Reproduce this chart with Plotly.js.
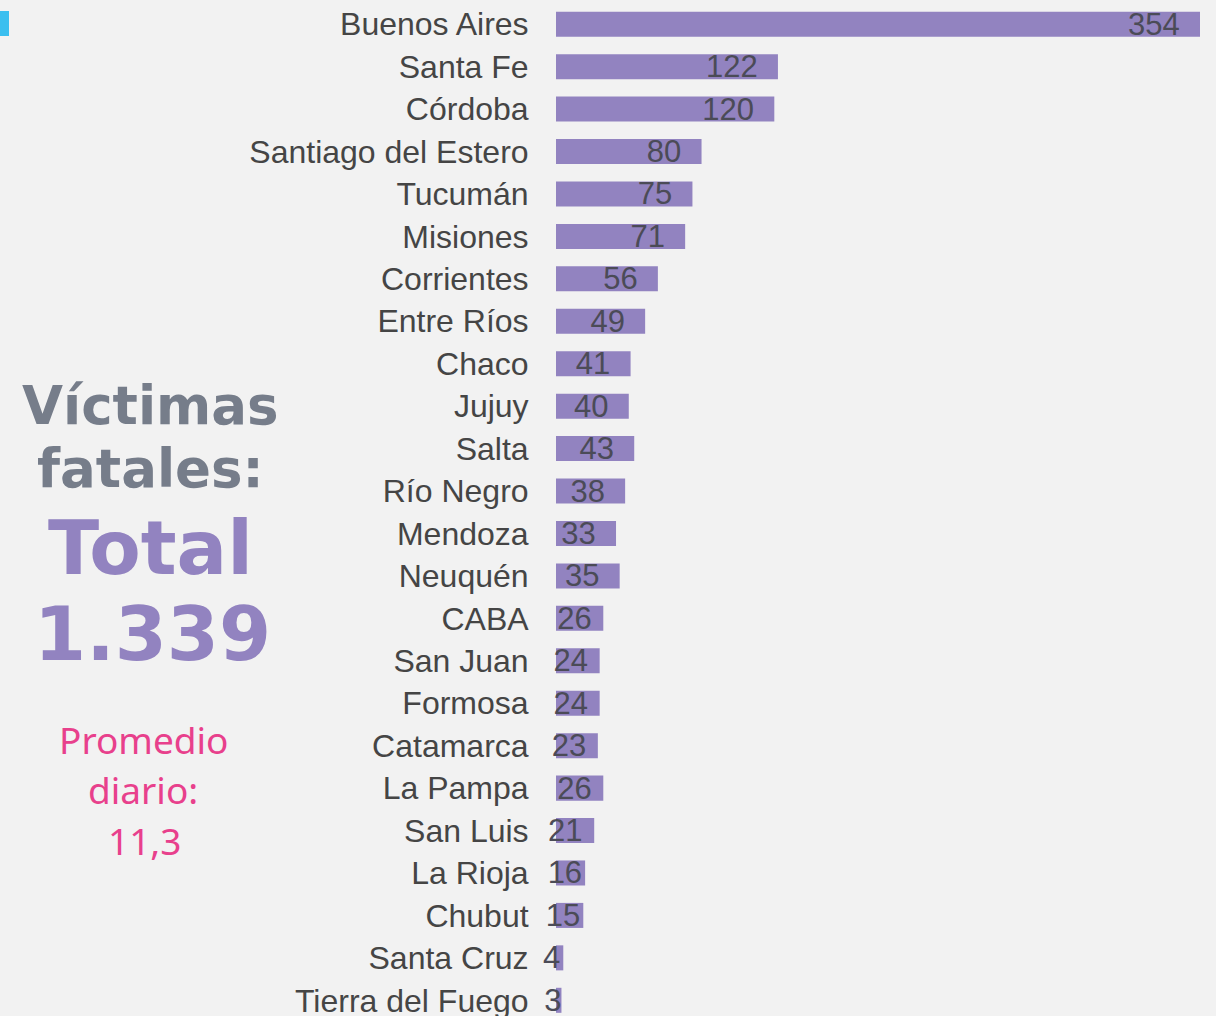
<!DOCTYPE html>
<html>
<head>
<meta charset="utf-8">
<script src="https://cdn.plot.ly/plotly-3.0.1.min.js"></script>
<style>
  html, body { margin: 0; padding: 0; background: #f2f2f2; }
  #grafico { width: 1216px; height: 1016px; }
</style>
</head>
<body>
<div id="grafico"></div>
<script>
let provincias = ['Buenos Aires', 'Santa Fe', 'Córdoba', 'Santiago del Estero', 'Tucumán',
    'Misiones', 'Corrientes', 'Entre Ríos', 'Chaco', 'Jujuy', 'Salta', 'Río Negro',
    'Mendoza', 'Neuquén', 'CABA', 'San Juan', 'Formosa', 'Catamarca', 'La Pampa',
    'San Luis', 'La Rioja', 'Chubut', 'Santa Cruz', 'Tierra del Fuego'];
let victimas = [354, 122, 120, 80, 75, 71, 56, 49, 41, 40, 43, 38, 33, 35, 26, 24, 24, 23, 26, 21, 16, 15, 4, 3];

// paso de pixeles a coordenadas "paper"
let izq = 556, ancho = 644, arriba = 3, alto = 1013;
function px(x) { return (x - izq) / ancho; }
function py(y) { return 1 - (y - arriba) / alto; }

// las etiquetas de las barras largas quedan un poco separadas del final
let etiquetas = victimas.map(v => v >= 30 ? v + '\u00a0\u00a0' : (v >= 20 ? v + '\u00a0' : String(v)));

let graf =
{
    x: victimas,
    y: provincias,
    type: 'bar',
    orientation: 'h',
    marker: { color: '#9283c0' },
    text: etiquetas,
    textposition: 'inside',
    insidetextanchor: 'end',
    constraintext: 'none',
    textangle: 0,
    textfont: { family: 'Liberation Sans, Arial, sans-serif', size: 31, color: '#4b4b57' },
    cliponaxis: false,
    hoverinfo: 'none'
}

let titulo = { family: 'DejaVu Sans, Verdana, sans-serif', size: 53, color: '#767d8a', weight: 'bold' };
let total = { family: 'DejaVu Sans, Verdana, sans-serif', size: 75, color: '#9283c0', weight: 'bold' };
let promedio = { family: 'Noto Sans, Open Sans, sans-serif', size: 37, color: '#e8408c' };

function nota(texto, x, y, fuente)
{
    return { text: texto, xref: 'paper', yref: 'paper', x: px(x), y: py(y),
        xanchor: 'center', yanchor: 'middle', showarrow: false, font: fuente };
}

let layout =
{
    width: 1216,
    height: 1016,
    paper_bgcolor: '#f2f2f2',
    plot_bgcolor: '#f2f2f2',
    margin: { l: izq, r: 1216 - izq - ancho, t: arriba, b: 0, pad: 0 },
    bargap: 0.41,
    showlegend: false,
    xaxis: {
        range: [0, 354],
        visible: false,
        fixedrange: true
    },
    yaxis: {
        type: 'category',
        range: [23.37, -0.5],
        showgrid: false,
        zeroline: false,
        showline: false,
        ticks: 'outside',
        ticklen: 20,
        tickcolor: 'rgba(0,0,0,0)',
        tickfont: { family: 'Liberation Sans, Arial, sans-serif', size: 32, color: '#454545' }
    },
    shapes: [
        { type: 'rect', xref: 'paper', yref: 'paper', x0: px(0), x1: px(9), y0: py(36), y1: py(11),
          fillcolor: '#3bbfef', line: { width: 0 } }
    ],
    annotations: [
        nota('Víctimas', 150, 405, titulo),
        nota('fatales:', 150, 468, titulo),
        nota('Total', 150, 548, total),
        nota('1.339', 152, 634, total),
        nota('Promedio', 143, 739, promedio),
        nota('diario:', 143, 789, promedio),
        nota('11,3', 144, 840, promedio)
    ]
}

let contenedor = document.getElementById("grafico");
Plotly.newPlot(contenedor, [graf], layout, { staticPlot: true });
</script>
</body>
</html>
